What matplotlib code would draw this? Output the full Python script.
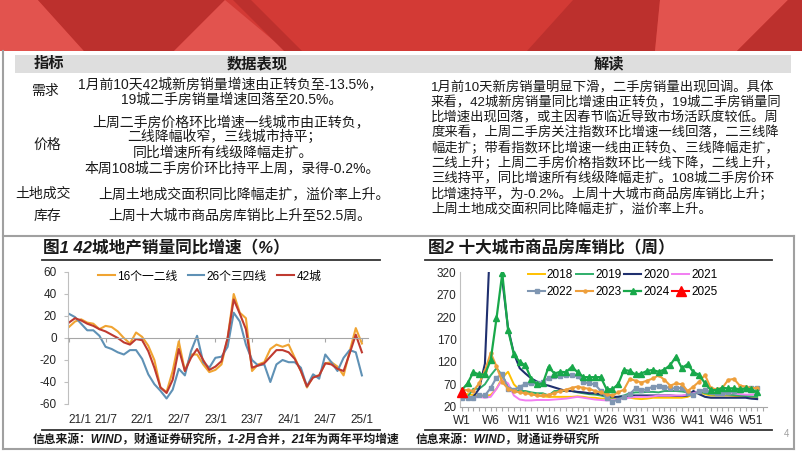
import matplotlib
matplotlib.use('Agg')
import matplotlib.pyplot as plt
from matplotlib.patches import Polygon, Rectangle
from matplotlib.lines import Line2D
import numpy as np

plt.rcParams['font.family'] = ['Liberation Sans', 'Noto Sans CJK SC']
plt.rcParams['axes.unicode_minus'] = False

# ---------------- data: chart 1 (monthly, 21/1 .. 25/1) ----------------
months = list(range(49))
tick_months = [0, 6, 12, 18, 24, 30, 36, 42, 48]
tick_labels1 = ['21/1', '21/7', '22/1', '22/7', '23/1', '23/7', '24/1', '24/7', '25/1']
tier12 = [10, 15, 17, 14, 13, 8, 11, 10, 6, 0, -5, 5, 1, -7, -20, -45, -49, -30, -3, -30,
          -15, -15, -24, -31, -29, -24, 0, 40, 23, 18, -30, -24, -22, -10, -6, -8, -6, -18,
          -30, -45, -35, -34, -23, -22, -26, -34, -12, 9, -5]
tier34 = [22, 19, 13, 7, 7, 2, -8, -10, -13, -15, -11, -11, -19, -33, -42, -48, -55, -47,
          -28, -34, -12, 2, -22, -27, -18, -17, -8, 23, 15, -6, -20, -25, -24, -40, -24, -20,
          -22, -22, -27, -44, -33, -37, -15, -22, -30, -18, -11, -13, -34]
city42 = [14, 18, 16, 13, 11, 8, 6, 3, 0, -4, -6, -1, -2, -12, -27, -45, -50, -38, -10, -30,
          -18, -10, -20, -29, -26, -21, 0, 35, 22, 8, -27, -25, -23, -17, -11, -11, -13, -19,
          -30, -44, -36, -34, -23, -24, -28, -30, -14, 3, -13]
names1 = ['16个一二线', '26个三四线', '42城']

# ---------------- data: chart 2 (weekly W1..W52) ----------------
weeks = list(range(1, 53))
week_ticks = list(range(1, 54))
week_label_every = [1, 6, 11, 16, 21, 26, 31, 36, 41, 46, 51]
y2018 = [50, 48, 46, 44, 44, 46, 60, 85, 98, 70, 57, 52, 48, 45, 43, 42, 42, 42, 42, 42, 43, 42,
         40, 40, 38, 38, 38, 38, 40, 40, 38, 37, 38, 40, 40, 40, 40, 40, 40, 42, 48, 52, 48, 45,
         45, 45, 45, 44, 43, 42, 42, 42]
y2019 = [40, 42, 60, 60, 70, 90, 106, 90, 65, 57, 55, 55, 52, 50, 50, 45, 55, 55, 55, 55, 52, 50,
         48, 47, 45, 42, 40, 42, 45, 50, 52, 52, 53, 53, 52, 55, 55, 55, 54, 52, 50, 55, 50, 48,
         47, 48, 47, 46, 45, 44, 43, 42]
y2020 = [40, 40, 42, 60, 116, 420, 700, 303, 195, 139, 106, 94, 83, 76, 70, 67, 63, 59, 55, 55,
         53, 52, 50, 50, 48, 45, 42, 42, 43, 45, 45, 45, 45, 45, 45, 45, 45, 44, 44, 45, 55, 48,
         42, 40, 40, 40, 40, 40, 40, 40, 38, 37]
y2021 = [40, 40, 40, 42, 40, 42, 60, 80, 72, 45, 36, 34, 34, 35, 35, 35, 36, 37, 38, 40, 42, 40,
         38, 36, 35, 34, 35, 36, 38, 40, 42, 42, 42, 43, 45, 45, 45, 45, 45, 47, 50, 55, 58, 52,
         48, 48, 50, 50, 48, 47, 47, 48]
y2022 = [40, 40, 40, 45, 45, 62, 85, 92, 60, 57, 65, 70, 72, 72, 75, 85, 88, 88, 90, 90, 88, 75,
         72, 70, 55, 40, 31, 36, 42, 48, 61, 57, 59, 65, 66, 65, 61, 61, 62, 50, 47, 55, 58, 52,
         50, 50, 52, 55, 57, 60, 62, 62]
y2023 = [58, 57, 55, 72, 100, 140, 110, 75, 60, 55, 52, 50, 48, 45, 45, 47, 50, 55, 58, 62, 65,
         62, 60, 55, 52, 48, 45, 52, 58, 82, 78, 74, 78, 83, 90, 80, 67, 72, 70, 55, 65, 76, 91,
         61, 59, 62, 80, 82, 67, 65, 61, 62]
y2024 = [57, 72, 97, 92, 92, 124, 217, 318, 191, 137, 120, 112, 82, 70, 72, 109, 94, 98, 97, 109,
         97, 86, 86, 86, 86, 59, 59, 70, 102, 100, 92, 94, 100, 102, 98, 103, 113, 132, 106, 115,
         97, 91, 72, 57, 57, 62, 61, 61, 59, 61, 59, 52]
weeks2025 = [1]
y2025 = [52.5]

# ---------------- table text ----------------
header_cols = ['指标', '数据表现', '解读']
row_labels = ['需求', '价格', '土地成交', '库存']
mid_lines = ['1月前10天42城新房销量增速由正转负至-13.5%，',
             '19城二手房销量增速回落至20.5%。',
             '上周二手房价格环比增速一线城市由正转负，',
             '二线降幅收窄，三线城市持平；',
             '同比增速所有线级降幅走扩。',
             '本周108城二手房价环比持平上周，录得-0.2%。',
             '上周土地成交面积同比降幅走扩，溢价率上升。',
             '上周十大城市商品房库销比上升至52.5周。']
right_lines = ['1月前10天新房销量明显下滑，二手房销量出现回调。具体',
               '来看，42城新房销量同比增速由正转负，19城二手房销量同',
               '比增速出现回落，或主因春节临近导致市场活跃度较低。周',
               '度来看，上周二手房关注指数环比增速一线回落，二三线降',
               '幅走扩；带看指数环比增速一线由正转负、三线降幅走扩，',
               '二线上升；上周二手房价格指数环比一线下降，二线上升，',
               '三线持平，同比增速所有线级降幅走扩。108城二手房价环',
               '比增速持平，为-0.2%。上周十大城市商品房库销比上升；',
               '上周土地成交面积同比降幅走扩，溢价率上升。']
title1 = '图1 42城地产销量同比增速（%）'
title2 = '图2 十大城市商品房库销比（周）'
source1 = '信息来源：WIND，财通证券研究所，1-2月合并，21年为两年平均增速'
source2 = '信息来源：WIND，财通证券研究所'

# ---------------- figure ----------------
W, H = 802, 451
fig = plt.figure(figsize=(W / 100, H / 100), dpi=100)
fig.patch.set_facecolor('white')

bg = fig.add_axes([0, 0, 1, 1])
bg.set_xlim(0, W)
bg.set_ylim(H, 0)
bg.axis('off')

# banner
bg.add_patch(Rectangle((0, 0), W, 51, color='#D33A35', lw=0))
dark, light = '#BC302D', '#E2534E'
for pts, c in [
    ([(0, 0), (38, 0), (84, 51), (0, 51)], light),
    ([(38, 0), (225, 0), (174, 51), (84, 51)], dark),
    ([(225, 0), (286, 51), (174, 51)], light),
    ([(233, 0), (251, 0), (302, 51), (284, 51)], dark),
    ([(573, 0), (660, 0), (655, 51), (527, 51)], dark),
    ([(660, 0), (788, 0), (737, 51), (655, 51)], light),
    ([(788, 0), (802, 0), (802, 51), (737, 51)], dark),
]:
    bg.add_patch(Polygon(pts, closed=True, color=c, lw=0))

# frame lines
fc = '#A0A0A0'
bg.plot([2.5, 2.5], [51, 449], color=fc, lw=1.5)
bg.plot([2.5, 794], [236, 236], color=fc, lw=1.5)
bg.plot([794, 794], [236, 449], color=fc, lw=1.5)
bg.plot([2.5, 794], [449, 449], color=fc, lw=1.5)

# table header
bg.add_patch(Rectangle((15, 55), 776, 18, color='#DEDEDE', lw=0))
tc = '#1a1a1a'


def T(x, y, s, size=10, ha='center', weight='normal', style='normal', color=tc):
    bg.text(x, y, s, fontsize=size, ha=ha, va='center', weight=weight, style=style, color=color)


for x, s in zip([49, 257, 609], header_cols):
    T(x, 64, s, size=11, weight='bold')
for (x, y), s in zip([(45, 91), (47, 145), (43, 194), (47, 216)], row_labels):
    T(x, y, s)
mid_pos = [(230, 84), (232, 100), (231, 122), (224, 137), (223, 153), (232, 168), (244, 194), (240, 216)]
for (x, y), s in zip(mid_pos, mid_lines):
    T(x, y, s)
for i, s in enumerate(right_lines):
    T(431, 87.3 + i * 15.3, s, size=9.6, ha='left')

# titles, rules, sources
T(43, 248, title1, size=12, ha='left', weight='bold', style='italic')
T(428, 248, title2, size=12, ha='left', weight='bold', style='italic')
for x0, x1 in [(42, 380), (425, 772)]:
    bg.plot([x0, x1], [260, 260], color='#333333', lw=1.3)
    bg.plot([x0, x1], [429.5, 429.5], color='#333333', lw=1.3)
T(33, 441, source1, size=8.5, ha='left', weight='bold', style='italic')
T(416, 441, source2, size=8.5, ha='left', weight='bold', style='italic')
T(786, 434, '4', size=7, color='#A0A0A0')

# ---------------- chart 1 ----------------
c_or, c_bl, c_rd = '#F0A432', '#5F91B5', '#BF3A30'
ax1 = fig.add_axes([68 / W, 1 - 404 / H, 300 / W, 132 / H])
ax1.patch.set_alpha(0)
ax1.plot(months, tier12, color=c_or, lw=1.5, label=names1[0])
ax1.plot(months, tier34, color=c_bl, lw=1.5, label=names1[1])
ax1.plot(months, city42, color=c_rd, lw=1.5, label=names1[2])
ax1.set_ylim(-60, 60)
ax1.set_yticks(range(-60, 61, 20))
ax1.set_xlim(-0.15, 49)
for s in ['top', 'right']:
    ax1.spines[s].set_visible(False)
ax1.spines['bottom'].set_position(('data', 0))
ax1.spines['bottom'].set_color('#A6A6A6')
ax1.spines['left'].set_color('#BFBFBF')
ax1.set_xticks(tick_months)
ax1.tick_params(axis='x', labelbottom=False, length=3, color='#A6A6A6', direction='out')
ax1.tick_params(axis='y', length=3, color='#BFBFBF', pad=5, labelsize=8.5, labelcolor='#262626')
sec = ax1.secondary_xaxis(0)
sec.set_xticks(tick_months, labels=tick_labels1)
sec.tick_params(length=0, pad=7, labelsize=8.5, labelcolor='#262626')
sec.spines['bottom'].set_visible(False)
sec.get_xticklabels()[0].set_horizontalalignment('left')
ax1.legend(loc='center', bbox_to_anchor=(0.472, 0.965), ncol=3, frameon=False, fontsize=8.5,
           handlelength=1.4, handletextpad=0.2, columnspacing=0.9, borderpad=0, borderaxespad=0)

# ---------------- chart 2 ----------------
ax2 = fig.add_axes([460 / W, 1 - 406.7 / H, 307 / W, 134.4 / H])
ax2.patch.set_alpha(0)
l18, = ax2.plot(weeks, y2018, color='#FFC000', lw=1.4, label='2018')
l19, = ax2.plot(weeks, y2019, color='#2FAE6A', lw=1.4, label='2019')
l20, = ax2.plot(weeks, y2020, color='#1F2F6E', lw=1.5, label='2020')
l21, = ax2.plot(weeks, y2021, color='#F27EF2', lw=1.4, label='2021')
l22, = ax2.plot(weeks, y2022, color='#7F96B2', lw=1.5, marker='s', ms=3, label='2022')
l23, = ax2.plot(weeks, y2023, color='#EE9F3C', lw=1.5, marker='o', ms=2.2, label='2023')
l24, = ax2.plot(weeks, y2024, color='#18A84A', lw=1.6, marker='^', ms=5, label='2024')
l25, = ax2.plot(weeks2025, y2025, color='#FF0000', lw=1.5, marker='^', ms=6.5, label='2025',
                clip_on=False, zorder=5)
ax2.set_ylim(20, 320)
ax2.set_yticks(range(20, 321, 50))
ax2.set_xlim(0.7, 53.7)
ax2.set_xticks(week_ticks)
ax2.set_xticklabels(['W%d' % w if w in week_label_every else '' for w in week_ticks])
for s in ['top', 'right']:
    ax2.spines[s].set_visible(False)
ax2.spines['bottom'].set_color('#A6A6A6')
ax2.spines['left'].set_color('#BFBFBF')
ax2.tick_params(axis='x', length=3, color='#A6A6A6', pad=3, labelsize=8.5, labelcolor='#262626')
ax2.tick_params(axis='y', length=0, pad=2.5, labelsize=8.5, labelcolor='#262626')
order = [l18, l22, l19, l23, l20, l24, l21, l25]
ax2.legend(handles=order, labels=[h.get_label() for h in order], loc='center',
           bbox_to_anchor=(0.53, 0.917), ncol=4, frameon=False, fontsize=8.5,
           handlelength=1.45, handletextpad=0.15, columnspacing=0.25, labelspacing=0.4,
           borderpad=0, borderaxespad=0)

fig.savefig('out.png', dpi=100, facecolor='white')
